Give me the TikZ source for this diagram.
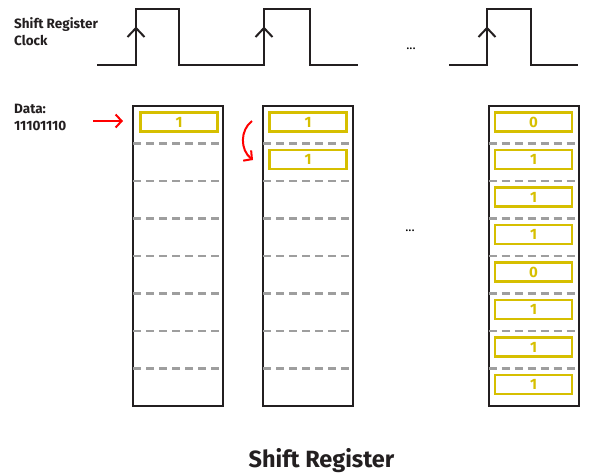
\documentclass[tikz,border=0pt]{standalone}
\usepackage{fontspec}
\setmainfont{Fira Sans}
\usetikzlibrary{arrows.meta}
\definecolor{ylw}{HTML}{D6BF00}
\definecolor{dgray}{HTML}{9E9E9E}
\definecolor{blk}{HTML}{231F20}
\definecolor{rd}{HTML}{FF0000}
\tikzset{
  clk/.style={draw=blk,line width=2pt},
  reg/.style={draw=blk,line width=2pt,minimum width=90pt,minimum height=300pt,inner sep=0pt,outer sep=0pt},
  dsh/.style={draw=dgray,line width=2.2pt,dash pattern=on 8pt off 5pt},
  cell/.style={draw=ylw,line width=2.3pt,minimum width=77pt,minimum height=19pt,inner sep=0pt,text=ylw,font=\bfseries\fontsize{15}{15}\selectfont},
  lbl/.style={anchor=base west,inner sep=0pt,font=\bfseries\fontsize{13.5}{13.5}\selectfont,text=blk},
  redarr/.style={draw=rd,line width=2pt,-{Straight Barb[length=6pt,width=13pt,line width=2pt]}},
}
\begin{document}
\begin{tikzpicture}[x=1pt,y=-1pt]
\useasboundingbox (0,0) rectangle (595,475);
% clock
\draw[clk] (97,65) -- (136,65) -- (136,9) -- (179,9) -- (179,65) -- (264,65) -- (264,9) -- (310,9) -- (310,65) -- (358,65);
\draw[clk] (449,65) -- (487,65) -- (487,9) -- (531,9) -- (531,65) -- (578,65);
\foreach \x in {136,264,487}{\draw[clk] (\x-8.5,37) -- (\x,28) -- (\x+8.5,37);}
\node[inner sep=0pt,font=\fontsize{13}{13}\selectfont] (dots1) at (411,49) {...};
% labels
\node[lbl] (lclk1) at (14,28) {Shift Register};
\node[lbl] (lclk2) at (14,45) {Clock};
\node[lbl] (ldat1) at (14,113) {Data:};
\node[lbl] (ldat2) at (14,130) {11101110};
% registers
\node[reg] (r1) at (178,256) {};
\node[reg] (r2) at (308,256) {};
\node[reg] (r3) at (533.5,256) {};
\foreach \k in {1,...,7}{
  \draw[dsh] (133,106+37.5*\k) -- (223,106+37.5*\k);
  \draw[dsh] (263,106+37.5*\k) -- (353,106+37.5*\k);
  \draw[dsh] (488.5,106+37.5*\k) -- (578.5,106+37.5*\k);
}
\node[inner sep=0pt,font=\fontsize{13}{13}\selectfont] (dots2) at (410,231) {...};
% cells
\node[cell] (a0) at (179,122) {1};
\node[cell] (b0) at (308,122) {1};
\node[cell] (b1) at (308,159.5) {1};
\foreach \v [count=\k from 0] in {0,1,1,1,0,1,1,1}{
  \node[cell] (c\k) at (533.5,122+37.5*\k) {\v};
}
% arrows
\coordinate (din) at (93,121);
\coordinate (dtip) at (123,121);
\draw[redarr] (din) -- (dtip);
\coordinate (sh1) at (252,121);
\coordinate (sh2) at (253,160);
\draw[redarr] (sh1) .. controls (240,130) and (240,150) .. (sh2);
% title
\node[anchor=base,inner sep=0pt,font=\bfseries\fontsize{23.5}{23.5}\selectfont,text=blk] (title) at (321.5,467) {Shift Register};
\end{tikzpicture}
\end{document}
